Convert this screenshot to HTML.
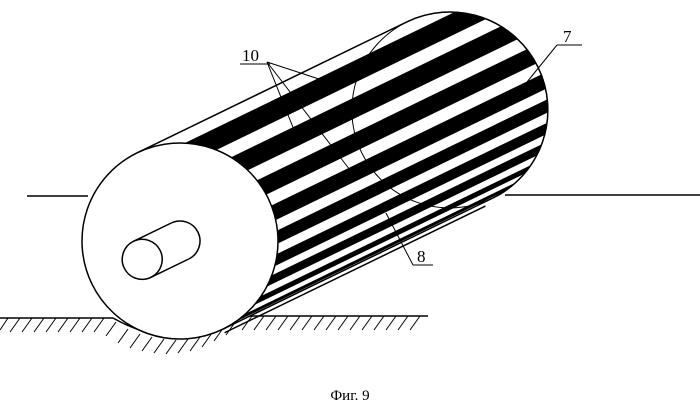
<!DOCTYPE html>
<html><head><meta charset="utf-8"><style>
html,body{margin:0;padding:0;background:#fff;width:700px;height:414px;overflow:hidden}
svg{display:block}
</style></head><body>
<svg width="700" height="414" viewBox="0 0 700 414" xmlns="http://www.w3.org/2000/svg">
<defs>
<clipPath id="body">
<rect x="0" y="-98" width="300" height="196"/>
<circle cx="300" cy="0" r="98"/>
</clipPath>
</defs>
<line x1="27" y1="196" x2="88" y2="196" stroke="#000" stroke-width="1.5"/>
<line x1="505" y1="195" x2="700" y2="195" stroke="#000" stroke-width="1.5"/>
<g stroke="#000" stroke-width="1">
<line x1="0" y1="318" x2="113" y2="318" stroke-width="1.5"/>
<line x1="245" y1="316" x2="428" y2="316" stroke-width="1.5"/>
<path d="M113 318 Q180 356 245 316" fill="none" stroke-width="1.5"/>
<line x1="8" y1="318" x2="0" y2="330"/><line x1="20" y1="318" x2="10" y2="332"/><line x1="32" y1="318" x2="22" y2="332"/><line x1="44" y1="318" x2="34" y2="332"/><line x1="56" y1="318" x2="46" y2="332"/><line x1="68" y1="318" x2="58" y2="332"/><line x1="80" y1="318" x2="70" y2="332"/><line x1="92" y1="318" x2="82" y2="332"/><line x1="104" y1="318" x2="94" y2="332"/>
<line x1="116" y1="322" x2="106" y2="336"/><line x1="128" y1="329" x2="118" y2="343"/><line x1="140" y1="334" x2="130" y2="348"/><line x1="152" y1="337" x2="142" y2="351"/><line x1="164" y1="339" x2="154" y2="353"/><line x1="176" y1="340" x2="166" y2="354"/><line x1="188" y1="339" x2="178" y2="353"/><line x1="200" y1="337" x2="190" y2="351"/><line x1="212" y1="333" x2="202" y2="347"/><line x1="224" y1="327" x2="214" y2="341"/><line x1="236" y1="321" x2="226" y2="335"/>
<line x1="252" y1="316" x2="242" y2="330"/><line x1="264" y1="316" x2="254" y2="330"/><line x1="276" y1="316" x2="266" y2="330"/><line x1="288" y1="316" x2="278" y2="330"/><line x1="300" y1="316" x2="290" y2="330"/><line x1="312" y1="316" x2="302" y2="330"/><line x1="324" y1="316" x2="314" y2="330"/><line x1="336" y1="316" x2="326" y2="330"/><line x1="348" y1="316" x2="338" y2="330"/><line x1="360" y1="316" x2="350" y2="330"/><line x1="372" y1="316" x2="362" y2="330"/><line x1="384" y1="316" x2="374" y2="330"/><line x1="396" y1="316" x2="386" y2="330"/><line x1="408" y1="316" x2="398" y2="330"/><line x1="420" y1="316" x2="410" y2="330"/>
</g>
<g transform="translate(180,241) rotate(-25.9)">
<rect x="0" y="-98" width="300" height="196" fill="#fff"/>
<circle cx="300" cy="0" r="98" fill="#fff"/>
<g clip-path="url(#body)" fill="#000">
<rect x="-10" y="-86" width="420" height="20"/>
<rect x="-10" y="-53" width="420" height="19"/>
<rect x="-10" y="-21" width="420" height="17"/>
<rect x="-10" y="8" width="420" height="15"/>
<rect x="-10" y="33" width="420" height="12"/>
<rect x="-10" y="54" width="420" height="10"/>
<rect x="-10" y="71" width="420" height="8"/>
<rect x="-10" y="85" width="420" height="5"/>
<rect x="-10" y="94" width="420" height="3"/>
</g>
<circle cx="300" cy="0" r="98" fill="none" stroke="#000" stroke-width="1"/>
<line x1="0" y1="-98" x2="300" y2="-98" stroke="#000" stroke-width="1.5"/>
<line x1="0" y1="98" x2="300" y2="98" stroke="#000" stroke-width="1.5"/>
<line x1="0" y1="102" x2="290" y2="102" stroke="#000" stroke-width="1.5"/>
<path d="M300 -98 A98 98 0 0 1 300 98" fill="none" stroke="#000" stroke-width="1.5"/>
<circle cx="0" cy="0" r="98" fill="#fff" stroke="#000" stroke-width="1.5"/>
<rect x="-42" y="-20" width="42" height="40" fill="#fff"/>
<line x1="-42" y1="-20" x2="0" y2="-20" stroke="#000" stroke-width="1.5"/>
<line x1="-42" y1="20" x2="0" y2="20" stroke="#000" stroke-width="1.5"/>
<path d="M0 -20 A20 20 0 0 1 0 20" fill="#fff" stroke="#000" stroke-width="1.5"/>
<circle cx="-42" cy="0" r="20" fill="#fff" stroke="#000" stroke-width="1.5"/>
</g>
<g stroke="#000" stroke-width="1" fill="none">
<line x1="240" y1="64" x2="270" y2="64"/>
<line x1="267" y1="62" x2="322" y2="80"/>
<line x1="267" y1="62" x2="300" y2="145"/>
<line x1="267" y1="62" x2="350" y2="170"/>
<line x1="557" y1="45" x2="582" y2="45"/>
<line x1="557" y1="45" x2="527" y2="82"/>
<line x1="413" y1="265" x2="433" y2="265"/>
<line x1="413" y1="265" x2="386" y2="213"/>
</g>
<g font-family="Liberation Serif, serif" font-size="17" fill="#000">
<text x="242" y="61">10</text>
<text x="563" y="42">7</text>
<text x="417" y="262">8</text>
<text x="350" y="400" font-size="15" text-anchor="middle">Фиг. 9</text>
</g>
</svg>
</body></html>
